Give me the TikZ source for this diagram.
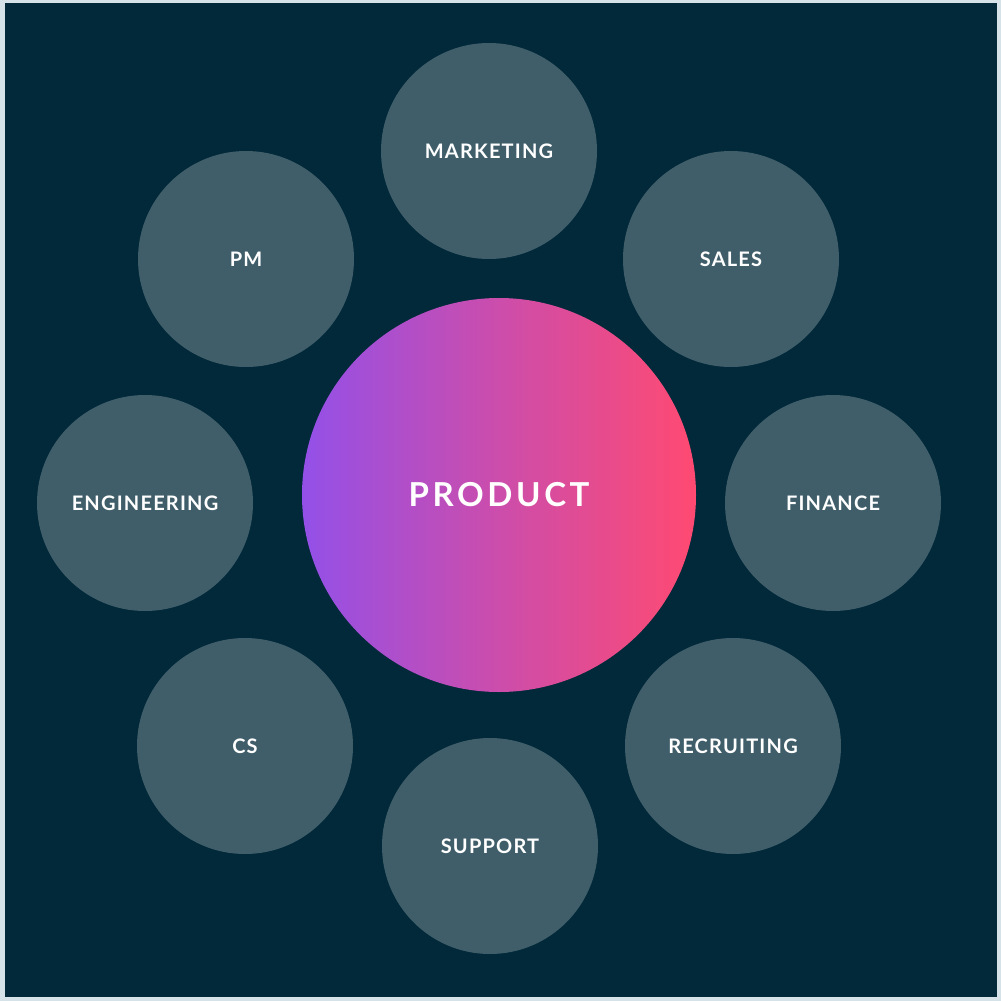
\documentclass[tikz,border=0pt]{standalone}
\usepackage{fontspec}
\setmainfont{Lato}[LetterSpace=6]
\newfontfamily\prodfont{Lato}[LetterSpace=11]
\usetikzlibrary{shapes.geometric}
\definecolor{bgdark}{HTML}{022939}
\definecolor{frame}{HTML}{D5E2E8}
\definecolor{bubble}{HTML}{405E6A}
\definecolor{pleft}{HTML}{9350E8}
\definecolor{pmid}{HTML}{CC4DAB}
\definecolor{pright}{HTML}{FF4A72}
\tikzset{
  bubblenode/.style={circle, fill=bubble, minimum size=216pt, inner sep=0pt, text=white, font=\bfseries\fontsize{20}{24}\selectfont},
}
\begin{document}
\begin{tikzpicture}[x=1pt,y=-1pt]
\fill[frame] (0,0) rectangle (1001,1001);
\fill[bgdark] (5,3) rectangle (997,997);
\useasboundingbox (0,0) rectangle (1001,1001);
\node[bubblenode] (marketing) at (489,151) {MARKETING};
\node[bubblenode] (pm) at (246,259) {PM};
\node[bubblenode] (sales) at (731,259) {SALES};
\node[bubblenode] (engineering) at (145,503) {ENGINEERING};
\node[bubblenode] (finance) at (833,503) {FINANCE};
\node[bubblenode] (cs) at (245,746) {CS};
\node[bubblenode] (recruiting) at (733,746) {RECRUITING};
\node[bubblenode] (support) at (490,846) {SUPPORT};
\shade[left color=pleft, right color=pright, middle color=pmid] (499,495) circle (197);
\node[text=white, font=\prodfont\bfseries\fontsize{33}{38}\selectfont] (product) at (499,495) {PRODUCT};
\end{tikzpicture}
\end{document}
